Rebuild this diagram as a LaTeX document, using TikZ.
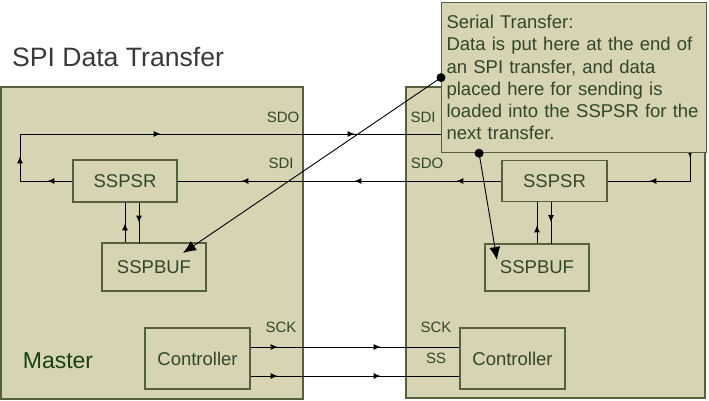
\documentclass[tikz,border=0pt]{standalone}
\usepackage{fontspec}
\setmainfont{Liberation Sans}
\usetikzlibrary{arrows.meta,decorations.markings}

\definecolor{khaki}{HTML}{D6D4B2}
\definecolor{boxline}{HTML}{56603F}
\definecolor{olivetext}{HTML}{34452A}
\definecolor{titlegray}{HTML}{3A3A3A}

\tikzset{
  block/.style={draw=boxline,fill=khaki,line width=1.2pt,text=olivetext,inner sep=0pt,
    font=\fontsize{18.5}{22}\selectfont},
  sig/.style={text=olivetext,font=\fontsize{15}{18}\selectfont},
  wire/.style={line width=0.9pt},
  midarrow/.style={postaction={decorate,decoration={markings,
    mark=at position #1 with {\arrow{Latex[length=7pt,width=6pt]}}}}},
}

\begin{document}
\begin{tikzpicture}[x=1pt,y=-1pt]
  %\draw (0, 0) to[grid with coordinates] (709, 401);
  \useasboundingbox (0,0) rectangle (709,401);
  \fill[white] (0,0) rectangle (709,401);
  \node[text=titlegray,font=\fontsize{26.6}{30}\selectfont] (title) at (118,57) {SPI Data Transfer};

  % master and slave frames
  \draw[block] (1,87) rectangle (303,399);
  \draw[block] (406,87) rectangle (705,398);
  \node[text=olivetext!80!green!60!black,font=\fontsize{23}{26}\selectfont] (mlabel) at (58,361) {Master};

  \node[block,minimum width=104pt,minimum height=42pt] (mSR) at (125,181) {SSPSR};
  \node[block,minimum width=104pt,minimum height=48pt] (mBUF) at (154,267) {SSPBUF};
  \node[block,minimum width=105pt,minimum height=61pt] (mCtl) at (197.5,358.5) {Controller};

  \node[block,minimum width=105pt,minimum height=41pt] (sSR) at (554.5,181) {SSPSR};
  \node[block,minimum width=104pt,minimum height=47pt] (sBUF) at (537,267.5) {SSPBUF};
  \node[block,minimum width=105pt,minimum height=61pt] (sCtl) at (512.5,358.5) {Controller};

  \coordinate (loopL) at (20,134);
  \coordinate (loopR) at (690,181);
  \draw[wire,midarrow=25pt,midarrow=77pt,midarrow=240pt,midarrow=434pt,midarrow=793pt,midarrow=857pt]
    (mSR.west) -| (loopL) -| (loopR) -- (sSR.east);
  \draw[wire,midarrow=45pt,midarrow=147pt,midarrow=260pt] (sSR.west) -- (mSR.east);

  \draw[wire,midarrow=19pt] (mBUF.north -| mSR.south) -- (mSR.south);
  \draw[wire,midarrow=20pt] ([xshift=14pt]mSR.south) -- +(0,41);
  \draw[wire,midarrow=18pt] (sBUF.north) -- (sBUF.north |- sSR.south);
  \draw[wire,midarrow=20pt] ([xshift=-3.5pt]sSR.south) -- +(0,42);

  \draw[wire,midarrow=27pt,midarrow=130pt] ([yshift=11.5pt]mCtl.east) -- ([yshift=11.5pt]sCtl.west);
  \draw[wire,midarrow=27pt,midarrow=130pt] ([yshift=-17.5pt]mCtl.east) -- ([yshift=-17.5pt]sCtl.west);

  \node[sig] (mSDO) at (283,117) {SDO};
  \node[sig] (mSDI) at (281,163) {SDI};
  \node[sig] (sSDI) at (423,117) {SDI};
  \node[sig] (sSDO) at (427,163) {SDO};
  \node[sig] (mSCK) at (281,327) {SCK};
  \node[sig] (sSCK) at (436,327) {SCK};
  \node[sig] (sSS) at (436,358) {SS};

  % callout
  \node[block,anchor=north west,minimum width=265pt,minimum height=150pt,text width=255pt,
    align=left,inner sep=5pt,font=\fontsize{18.5}{22.3}\selectfont] (note) at (441,2)
    {Serial Transfer:\\Data is put here at the end of\\an SPI transfer, and data\\placed here for sending is\\loaded into the SSPSR for the\\next transfer.};

  \coordinate (tipM) at (183,253);
  \coordinate (tipS) at (497,260);
  \coordinate (dotS) at ([xshift=-95pt]note.south);
  \draw[wire,-{Latex[length=13pt,width=11pt]}] (note.west) -- (tipM);
  \draw[wire,-{Latex[length=13pt,width=11pt]}] (dotS) -- (tipS);
  \fill (note.west) circle (4.5pt);
  \fill (dotS) circle (4.5pt);

\end{tikzpicture}
\end{document}
